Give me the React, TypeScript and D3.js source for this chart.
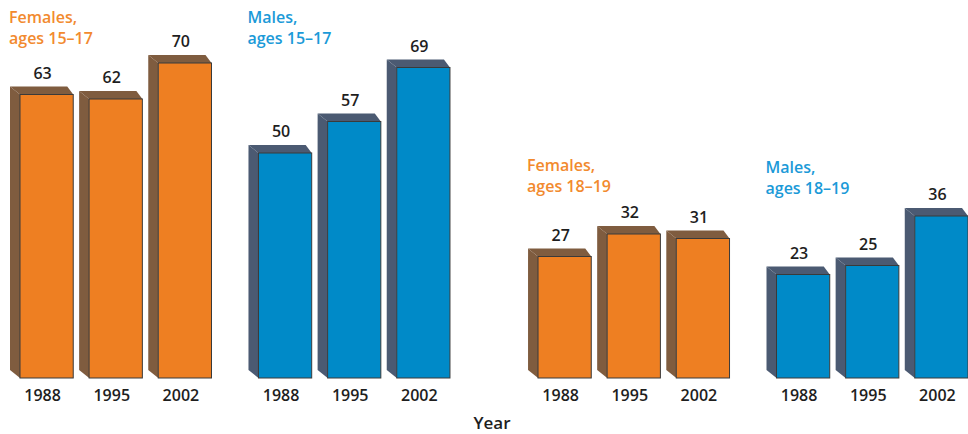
import React from "react";
import * as d3 from "d3";

// Grupos (edad x sexo) y valores por año
const ages = ["15–17", "18–19"];
const sexes = ["Females", "Males"];
const years = ["1988", "1995", "2002"];

const females1517 = [63, 62, 70];
const males1517 = [50, 57, 69];
const females1819 = [27, 32, 31];
const males1819 = [23, 25, 36];

const groups = [
  { age: "15–17", sex: "Females", values: females1517 },
  { age: "15–17", sex: "Males", values: males1517 },
  { age: "18–19", sex: "Females", values: females1819 },
  { age: "18–19", sex: "Males", values: males1819 },
];

const colors = {
  Females: { front: "#EE7F22", side: "#7F5C3F", title: "#F28A2E" },
  Males: { front: "#008AC8", side: "#4B5A72", title: "#1B9AD8" },
};

const width = 968;
const height = 434;
const baseline = 378;
const depthX = 10;
const depthY = 8;

const App = () => {
  const xAge = d3.scaleBand().domain(ages).range([20, 968]).paddingInner(0.17);
  const xSex = d3.scaleBand().domain(sexes).range([0, xAge.bandwidth()]).paddingInner(0.197);
  const xYear = d3.scaleBand().domain(years).range([0, xSex.bandwidth()]).paddingInner(0.23);
  const y = d3.scaleLinear().domain([0, 84]).range([baseline, 0]);

  const font = "'Open Sans', 'DejaVu Sans', sans-serif";
  // altura del título por edad
  const titleY = { "15–17": 18, "18–19": 166 };

  return (
    <svg width={width} height={height} style={{ position: "absolute", left: 0, top: 0 }}>
      <rect width={width} height={height} fill="#fff" />
      {groups.map((g) => {
        const gx = xAge(g.age) + xSex(g.sex);
        const c = colors[g.sex];
        const ty = titleY[g.age] + (g.age === "18–19" && g.sex === "Males" ? 2 : 0);
        return (
          <g key={g.age + g.sex}>
            <text x={gx - 11} y={ty + 5} fill={c.title} fontFamily={font} fontSize={16} fontWeight={600}>
              {g.sex},
            </text>
            <text x={gx - 11} y={ty + 26} fill={c.title} fontFamily={font} fontSize={16} fontWeight={600}>
              ages {g.age}
            </text>
            {g.values.map((v, i) => {
              const x0 = gx + xYear(years[i]);
              const x1 = x0 + xYear.bandwidth();
              const yt = y(v);
              const top = `${x0 - depthX},${yt - depthY} ${x1 - 6},${yt - depthY} ${x1},${yt} ${x0},${yt}`;
              const side = `${x0 - depthX},${yt - depthY} ${x0},${yt} ${x0},${baseline} ${x0 - depthX},${baseline - depthY}`;
              return (
                <g key={years[i]}>
                  <polygon points={side} fill={c.side} />
                  <polygon points={top} fill={c.side} />
                  <rect x={x0} y={yt} width={x1 - x0} height={baseline - yt} fill={c.front} stroke="#3a3a3a" strokeWidth={1} />
                  <text x={(x0 + x1) / 2 - 4} y={yt - depthY - 8} textAnchor="middle" fill="#1e1e1e" fontFamily={font} fontSize={16} fontWeight={600}>
                    {v}
                  </text>
                  <text x={(x0 + x1) / 2 - 4} y={401} textAnchor="middle" fill="#1e1e1e" fontFamily={font} fontSize={16} fontWeight={600}>
                    {years[i]}
                  </text>
                </g>
              );
            })}
          </g>
        );
      })}
      <text x={492} y={429} textAnchor="middle" fill="#1e1e1e" fontFamily={font} fontSize={17} fontWeight={600}>
        Year
      </text>
    </svg>
  );
};

export default App;
